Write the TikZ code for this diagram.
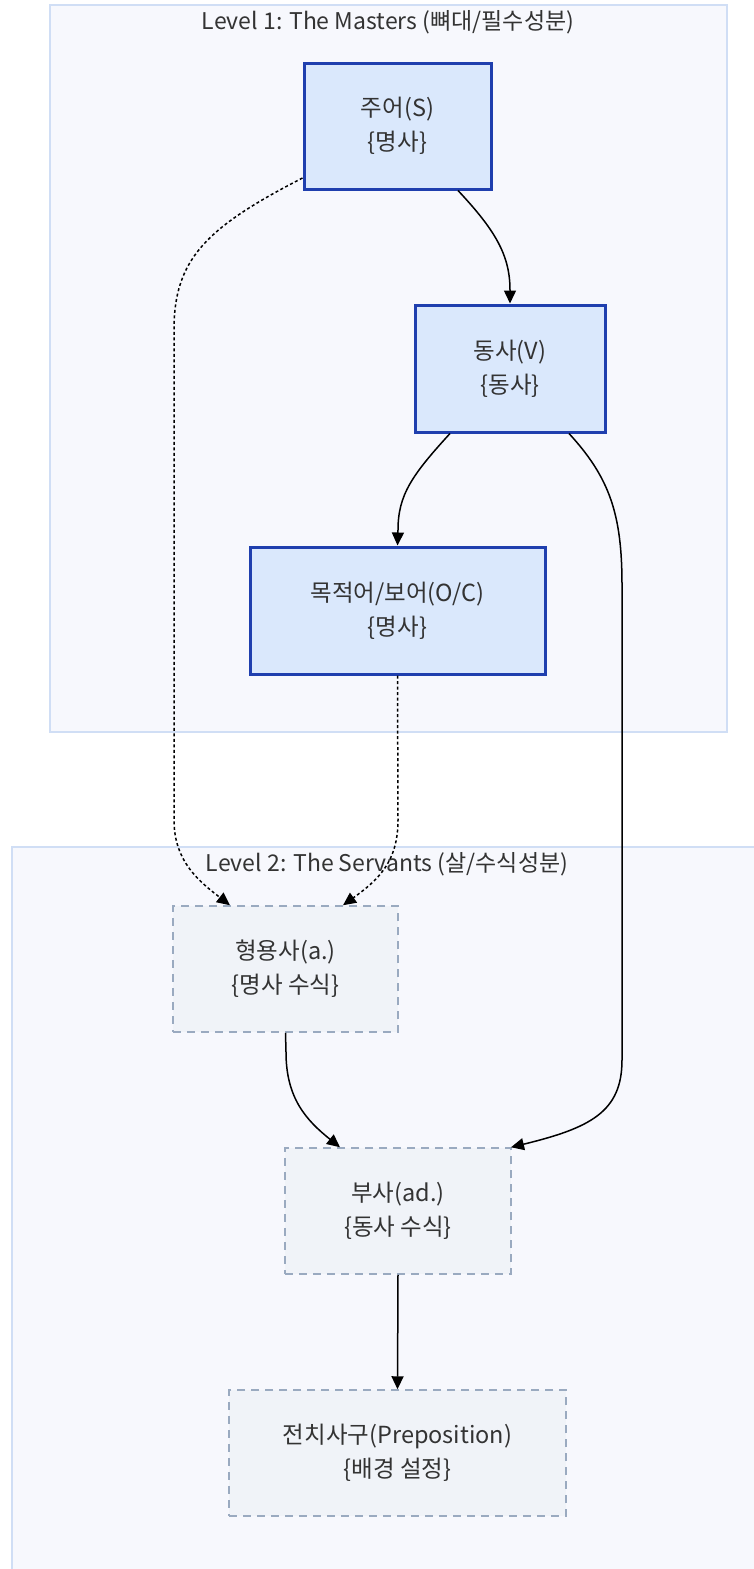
\documentclass[tikz,border=0pt]{standalone}
\usepackage{fontspec}
\setmainfont{Noto Sans CJK KR}
\usetikzlibrary{arrows.meta,calc}
\definecolor{clusterfill}{HTML}{F7F8FD}
\definecolor{clusterline}{HTML}{D0DEF5}
\definecolor{masterfill}{HTML}{DAE8FC}
\definecolor{masterline}{HTML}{1F3FAE}
\definecolor{servantfill}{HTML}{F0F3F8}
\definecolor{servantline}{HTML}{9AAAC0}
\definecolor{txt}{HTML}{333333}
\tikzset{
  x=1pt, y=-1pt,
  cluster/.style={draw=clusterline, fill=clusterfill, line width=1.2pt},
  ctitle/.style={text=txt, font=\fontsize{23}{28}\selectfont, inner sep=0pt},
  master/.style={draw=masterline, fill=masterfill, line width=3pt, text=txt,
    align=center, font=\fontsize{23.5}{34}\selectfont, inner sep=0pt},
  servant/.style={draw=servantline, fill=servantfill, line width=1.5pt,
    dash pattern=on 8pt off 6pt, text=txt, align=center,
    font=\fontsize{23.5}{34}\selectfont, inner sep=0pt},
  link/.style={draw=black, line width=1.5pt, -{Triangle[length=13pt,width=12pt]}},
  weak/.style={link, dash pattern=on 3pt off 2.5pt},
}
\begin{document}
\begin{tikzpicture}
\useasboundingbox (0,0) rectangle (754,1569);
% subgraph frames
\draw[cluster] (50,5) rectangle (727,732);
\draw[cluster] (12,847) rectangle (760,1575);
\node[ctitle] (t1) at (388,22) {Level 1: The Masters (뼈대/필수성분)};
\node[ctitle] (t2) at (387,864) {Level 2: The Servants (살/수식성분)};
% core parts
\node[master, minimum width=187pt, minimum height=126pt] (S) at (397.5,126) {주어(S)\\\{명사\}};
\node[master, minimum width=190pt, minimum height=127pt] (V) at (510,368.5) {동사(V)\\\{동사\}};
\node[master, minimum width=295pt, minimum height=127pt] (O) at (397.5,610.5) {목적어/보어(O/C)\\\{명사\}};
% modifiers
\node[servant, minimum width=225pt, minimum height=126pt] (A) at (285.5,969) {형용사(a.)\\\{명사 수식\}};
\node[servant, minimum width=226pt, minimum height=126pt] (D) at (398,1211) {부사(ad.)\\\{동사 수식\}};
\node[servant, minimum width=337pt, minimum height=126pt] (P) at (397.5,1453) {전치사구(Preposition)\\\{배경 설정\}};
% connectors
\draw[link] ([xshift=60.5pt]S.south) .. controls (495,230) and (510,255) .. (510,290) -- (V.north);
\draw[weak] ([yshift=-52pt]S.west) .. controls (205,228) and (174,260) .. (174,330)
  -- (174,820) .. controls (174,862) and (200,882) .. ([xshift=-55.5pt]A.north);
\draw[link] ([xshift=-60pt]V.south) .. controls (412,475) and (398,495) .. (398,530) -- (O.north);
\draw[link] ([xshift=59pt]V.south) .. controls (610,478) and (622,515) .. (622,585)
  -- (622,1060) .. controls (622,1112) and (590,1128) .. ([xshift=113pt]D.north);
\draw[weak] (O.south) -- (398,820) .. controls (398,862) and (378,880) .. ([xshift=57.5pt]A.north);
\draw[link] (A.south) -- (286,1052) .. controls (286,1098) and (306,1120) .. ([xshift=-58pt]D.north);
\draw[link] (D.south) -- (P.north);
\end{tikzpicture}
\end{document}
